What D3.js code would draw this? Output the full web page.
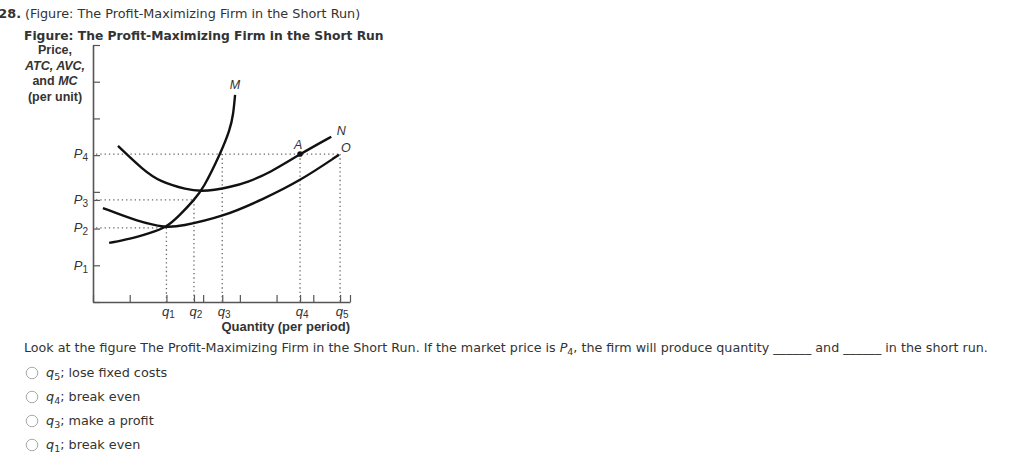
<!DOCTYPE html>
<html>
<head>
<meta charset="utf-8">
<script src="https://cdn.jsdelivr.net/npm/d3@7"></script>
<style>
  body { margin: 0; background: #fff; }
  svg { display: block; }
</style>
</head>
<body>
<svg></svg>
<script>
// Chart data, in axis units
const gridTicks = [0, 1, 2, 3, 4, 5, 6, 7];
const qLabels = ['1', '2', '3', '4', '5'];
const qValues = [2.0, 2.75, 3.52, 5.64, 6.73];
const pLabels = ['1', '2', '3', '4'];
const pValues = [0.98, 2.02, 2.78, 4.03];

// marginal cost curve (M)
const mcCurve = [[0.44, 1.61], [1.01, 1.72], [1.55, 1.88], [1.99, 2.02], [2.37, 2.37],
                 [2.75, 2.78], [3.0, 3.08], [3.48, 4.06], [3.73, 4.69], [3.82, 5.10], [3.87, 5.64]];
// average total cost curve (N)
const atcCurve = [[0.68, 4.25], [1.36, 3.60], [1.83, 3.27], [2.56, 3.06], [2.95, 3.02],
                  [3.3, 3.05], [3.73, 3.13], [4.20, 3.26], [4.82, 3.52], [5.64, 4.03], [6.49, 4.50]];
// average variable cost curve (O)
const avcCurve = [[0.27, 2.56], [1.20, 2.20], [1.99, 2.02], [2.37, 2.06], [3.54, 2.32],
                  [4.63, 2.80], [5.64, 3.30], [6.70, 4.01]];
const pointA = [5.64, 4.03];

const answers = [['5', '; lose fixed costs'], ['4', '; break even'],
                 ['3', '; make a profit'], ['1', '; break even']];

const width = 1024, height = 467;
const svg = d3.select('svg').attr('width', width).attr('height', height);

const sans = 'Liberation Sans, Arial, sans-serif';
const verd = 'DejaVu Sans, Verdana, sans-serif';
const ink = '#333';

const x = d3.scaleLinear().domain([0, 7]).range([93, 350]);
const y = d3.scaleLinear().domain([0, 7]).range([302, 45]);

// Header (question number is clipped at the left edge, as in the original)
svg.append('text').attr('x', 21).attr('y', 18).attr('text-anchor', 'end')
    .style('font', 'bold 12.8px ' + verd).attr('fill', ink).text('28.');
svg.append('text').attr('x', 25).attr('y', 18)
    .style('font', '12.8px ' + verd).attr('fill', ink)
    .text('(Figure: The Profit-Maximizing Firm in the Short Run)');
svg.append('text').attr('x', 24).attr('y', 40)
    .style('font', 'bold 12.3px ' + verd).attr('fill', ink)
    .text('Figure: The Profit-Maximizing Firm in the Short Run');

// Y axis title
const yTitle = svg.append('text').attr('text-anchor', 'middle')
    .style('font', 'bold 12.5px ' + sans).attr('fill', ink);
yTitle.append('tspan').attr('x', 55).attr('y', 54).text('Price,');
yTitle.append('tspan').attr('x', 55).attr('y', 70).style('font-style', 'italic').text('ATC, AVC,');
yTitle.append('tspan').attr('x', 55).attr('y', 85).text('and ');
yTitle.append('tspan').style('font-style', 'italic').text('MC');
yTitle.append('tspan').attr('x', 55).attr('y', 101).text('(per unit)');

// Axes
const yAxis = d3.axisLeft(y).tickValues(gridTicks.concat([pValues[2]]))
    .tickSizeInner(-7).tickSizeOuter(0).tickFormat('');
const xAxis = d3.axisBottom(x).tickValues(gridTicks.concat(qValues.slice(1)))
    .tickSizeInner(-7).tickSizeOuter(0).tickFormat('');

const gy = svg.append('g').attr('transform', `translate(${x(0)},0)`).call(yAxis);
const gx = svg.append('g').attr('transform', `translate(0,${y(0)})`).call(xAxis);
[gx, gy].forEach(g => {
  g.select('.domain').attr('stroke', '#555').attr('stroke-width', 1.6);
  g.selectAll('.tick line').attr('stroke', '#555').attr('stroke-width', 1.2);
});

// Dotted guide lines
const guides = [
  [[0, pValues[3]], [qValues[4], pValues[3]]],
  [[0, pValues[2]], [qValues[1], pValues[2]]],
  [[0, pValues[1]], [qValues[0], pValues[1]]],
  [[qValues[0], pValues[1]], [qValues[0], 0]],
  [[qValues[1], pValues[2]], [qValues[1], 0]],
  [[qValues[2], pValues[3]], [qValues[2], 0]],
  [[qValues[3], pValues[3]], [qValues[3], 0]],
  [[qValues[4], pValues[3]], [qValues[4], 0]]
];
svg.append('g').selectAll('line').data(guides).join('line')
    .attr('x1', d => x(d[0][0]) + (d[0][0] === 0 ? 3 : 0)).attr('y1', d => y(d[0][1]))
    .attr('x2', d => x(d[1][0])).attr('y2', d => y(d[1][1]))
    .attr('stroke', '#666').attr('stroke-width', 1.3).attr('stroke-dasharray', '1.3,3');

// Curves
const line = d3.line().x(d => x(d[0])).y(d => y(d[1])).curve(d3.curveBasis);
svg.append('g').selectAll('path').data([mcCurve, atcCurve, avcCurve]).join('path')
    .attr('d', line).attr('fill', 'none').attr('stroke', '#111').attr('stroke-width', 2.4);

svg.append('circle').attr('cx', x(pointA[0])).attr('cy', y(pointA[1])).attr('r', 2.8).attr('fill', '#111');

const curveLabel = (t, px, py) => svg.append('text').attr('x', px).attr('y', py)
    .attr('text-anchor', 'middle').style('font', 'italic 12.5px ' + sans).attr('fill', ink).text(t);
curveLabel('M', x(mcCurve[mcCurve.length - 1][0]), y(mcCurve[mcCurve.length - 1][1]) - 6);
curveLabel('N', x(atcCurve[atcCurve.length - 1][0]) + 10, y(atcCurve[atcCurve.length - 1][1]) - 2);
curveLabel('O', x(avcCurve[avcCurve.length - 1][0]) + 7, y(avcCurve[avcCurve.length - 1][1]) - 3);
curveLabel('A', x(pointA[0]) - 2, y(pointA[1]) - 5);

// P labels
const pl = svg.append('g').selectAll('text').data(pValues).join('text')
    .attr('x', x(0) - 5).attr('y', d => y(d) + 4).attr('text-anchor', 'end')
    .style('font', 'italic 13px ' + sans).attr('fill', ink);
pl.append('tspan').text('P');
pl.append('tspan').attr('dy', 3).style('font-size', '10px').style('font-style', 'normal').text((d, i) => pLabels[i]);

// q labels
const ql = svg.append('g').selectAll('text').data(qValues).join('text')
    .attr('x', d => x(d) + 2).attr('y', y(0) + 14).attr('text-anchor', 'middle')
    .style('font', 'italic 13px ' + sans).attr('fill', ink);
ql.append('tspan').text('q');
ql.append('tspan').attr('dy', 2).style('font-size', '10px').style('font-style', 'normal').text((d, i) => qLabels[i]);

svg.append('text').attr('x', x(7)).attr('y', 331).attr('text-anchor', 'end')
    .style('font', 'bold 13px ' + sans).attr('fill', ink).text('Quantity (per period)');

// Question
const q = svg.append('text').attr('x', 24).attr('y', 352)
    .style('font', '12.7px ' + verd).attr('fill', ink);
q.append('tspan').text('Look at the figure The Profit-Maximizing Firm in the Short Run. If the market price is ');
q.append('tspan').style('font-style', 'italic').text('P');
q.append('tspan').attr('dy', 3).style('font-size', '9.5px').text('4');
q.append('tspan').attr('dy', -3).text(', the firm will produce quantity ______ and ______ in the short run.');

// Answer choices
const opt = svg.append('g').selectAll('g').data(answers).join('g')
    .attr('transform', (d, i) => `translate(0,${373 + i * 24})`);
opt.append('circle').attr('cx', 32).attr('cy', 0).attr('r', 5.8)
    .attr('fill', '#fff').attr('stroke', '#aaa').attr('stroke-width', 1);
const ot = opt.append('text').attr('x', 46).attr('y', 4)
    .style('font', '12.8px ' + verd).attr('fill', ink);
ot.append('tspan').style('font-style', 'italic').text('q');
ot.append('tspan').attr('dy', 3).style('font-size', '9.5px').text(d => d[0]);
ot.append('tspan').attr('dy', -3).text(d => d[1]);
</script>
</body>
</html>
